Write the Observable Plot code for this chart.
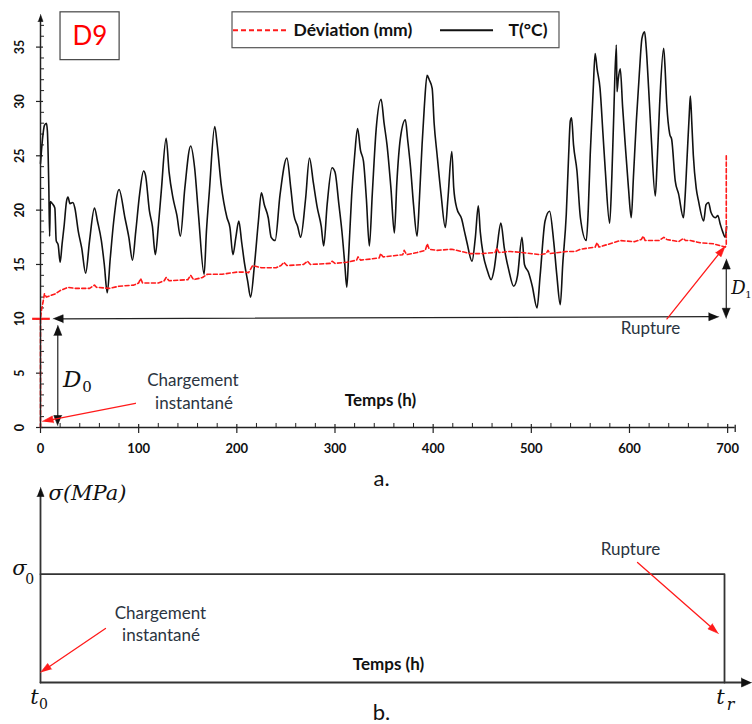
<!DOCTYPE html>
<html><head><meta charset="utf-8">
<script src="https://cdn.jsdelivr.net/npm/d3@7"></script>
<script src="https://cdn.jsdelivr.net/npm/@observablehq/plot@0.6"></script>
<style>
body{margin:0;background:#fff;overflow:hidden;}
#chart{width:752px;height:724px;position:relative;background:#fff;}
#chart svg{display:block;overflow:visible;}
</style></head><body><div id="chart"></div>
<script>
// ---------------- DATA ----------------
const tempHours = [0,2,4,6,7,8.5,9.3,10,12,14.6,16,18,20,22,24,26.5,28,30,33,35,38.4,42,46,50,55,58,62,65,68,71,74.6,80,86,90,93.7,97,101,105,107,111,114,117,120,123,128,131,135,139,142.5,147,153,157,161,166.7,169,172,177.5,180,184,190,193,196,199,202,205,208,211,214,218,222,225,228,232,235,239,244,251,255,258,262,265,270,274,278,282,286,288.5,292,297,300,304,307,310,312,314,317,320,323,326,329,332,335,338,342,347,350,353,357,360.5,363,366.6,371.7,374,377,380,383.6,386,388.7,391,393.8,396,399,401,404,408,412.4,415,419,421,424,429,432,434.5,439.6,443,446,448,451,455,459,462,465,469,472.5,477,482,486,490.5,493,497,501,505.8,509,514,518.6,522.7,526,529.5,532,535.6,538,539.7,541,543,546.5,550,556,558,560,563,565,567,570,573,575.4,579.8,582,583.8,586.6,587.3,588.5,590.6,593,595.7,599,601.8,604,607,610,612.7,615.4,617,619.5,622,626.3,628,630.7,634.8,636,638,641,643,646.6,650,655,656.5,658.5,661,662,663.5,665,668,670.4,675.5,678,680.5,683,687.4,690,692.5,695,697.6,699];
const tempValues = [24.3,26.5,27.8,28.0,27.3,22,17.6,20.8,20.6,20.2,17.2,16.8,15.2,16.9,18.5,20.8,21.2,20.6,20.7,20.2,18.1,16.5,14.2,17.2,20.2,19,17.2,15,12.4,15.5,19,21.9,19.3,17.5,15.4,18,21.5,23.6,23.2,19.9,18.5,15.9,18.5,21.7,26.6,23.5,21.1,19.5,17.6,22,25.9,23.9,19.5,14.1,18,21.7,27.7,26,22.4,19.3,18.4,15.9,17.5,19,17,15,13.5,12,15,19,21.6,20.5,19.3,17.5,17.2,21.4,24.8,22,19.6,18.5,17.5,21,24.8,22.5,20.2,18.5,16.7,20.5,23.9,23.5,20.5,18.1,15,12.9,16,21.4,25,27.5,25.5,24.5,21,16.7,21.5,27.5,30.2,28,26,22,17.9,22.5,26.6,28.3,26.5,23.9,20.5,17.6,21,26,29.5,32.4,32,31.2,28,25.1,21.5,18.4,21,25.4,22,20.2,19.2,18,17,15.3,17.5,20.4,18,15.9,14.5,13.6,14.5,16.5,18.8,16.5,14.5,13,14,17.5,15,14.3,13,11,14,19,19.9,17.2,14,11.3,15,19.6,25,28.2,28.5,26,23.6,19.3,17.2,20,25.1,31,34.4,33,31.2,27,23.6,18.8,23,28.2,35.2,30.9,32,33,29.5,26,22,19.3,23,28.2,32.5,35.8,36.4,35,31.2,27,21.3,24,29.7,34.9,33.5,29.7,27,26.5,22.7,21.5,19.3,21,24.5,29,30.5,28,25.1,22,20.8,19,20.5,20.7,19.8,19.3,19.5,18.7,18,17.5,18.5];

const devHours = [0,0,1,2.5,4,6,9,15,20,28,35,50,55,57,70,80,95,100,102,104,120,126,128,131,150,153,156,165,170,185,200,208,212,216,225,240,245,248,251,268,272,275,295,297,300,312,322,323.5,326,336,345,346.5,349,360,369,370.5,373,383.6,392,394,396,404,419,438,450,463,465,467,478.6,490,509,515,517,519,536,545,550,565,567,569,590.6,605,612,614,616,630,635,638,650,655,657,662,672,685.6,697.6,698.6,698.6];
const devValues = [0,10,10.8,11.5,12.3,12.0,12.1,12.3,12.6,12.9,12.8,12.8,13.1,12.9,12.8,13,13.1,13.3,13.7,13.3,13.3,13.5,13.8,13.5,13.6,14,13.6,13.8,14.1,14.1,14.3,14.3,14.25,14.9,14.7,14.7,14.9,15.2,14.9,15,15.3,15,15.1,15.3,15.1,15.2,15.4,15.7,15.4,15.5,15.6,16.0,15.7,15.8,15.9,16.3,15.9,16.1,16.3,16.9,16.4,16.3,16.4,16.0,16.0,16.1,16.5,16.1,16.2,16.1,15.9,16.0,16.3,16.0,16.2,16.2,16.4,16.6,17.0,16.6,17.2,17.1,17.3,17.6,17.2,17.2,17.5,17.3,17.1,17.4,17.2,17.2,17.0,16.9,16.6,16.8,25];

const xTicks = [0,100,200,300,400,500,600,700];
const xMinorTicks = d3.range(0, 701, 20).filter(d => d % 100 !== 0);
const yTicks = [0,5,10,15,20,25,30,35];
const yMinorTicks = d3.range(0, 38, 1).filter(d => d % 5 !== 0);
const legendLabels = ["Déviation (mm)", "T(°C)"];
const legendLabelX = [257.7, 476.8];

// ---------------- LAYOUT ----------------
const W = 752;
const font = "Lato, 'Open Sans', sans-serif";
const mathFont = "'DejaVu Serif', 'Liberation Serif', serif";
const ink = "#2b3441";

const hA = 485, mlA = 40, mrA = 17, mtA = 14, mbA = 58;
const xDom = [0, 708], yDomA = [0, 38];
const kx = (W - mlA - mrA) / (xDom[1] - xDom[0]);
const kyA = (hA - mtA - mbA) / (yDomA[1] - yDomA[0]);

const hB = 239, mtB = 2, mbB = 42;
const yDomB = [0, 1.8];
const kyB = (hB - mtB - mbB) / (yDomB[1] - yDomB[0]);

// arrow helpers (head sizes in px, converted to data units through the scale ratios)
let arrowId = 0;
function headAt(from, tip, ky, len, hw) {
  const dx = (tip[0] - from[0]) * kx, dy = -(tip[1] - from[1]) * ky;
  const L = Math.hypot(dx, dy), ux = dx / L, uy = dy / L, nx = -uy, ny = ux;
  const id = "h" + (arrowId++);
  const toData = (px, py) => ({t: tip[0] + px / kx, v: tip[1] - py / ky, id});
  return {
    head: [toData(0, 0), toData(-ux * len + nx * hw, -uy * len + ny * hw), toData(-ux * len - nx * hw, -uy * len - ny * hw)],
    base: toData(-ux * len * 0.7, -uy * len * 0.7)
  };
}
function single(from, tip, ky, len, hw) {
  const h = headAt(from, tip, ky, len, hw);
  const id = "s" + (arrowId++);
  return {shaft: [{t: from[0], v: from[1], id}, {t: h.base.t, v: h.base.v, id}], head: h.head};
}
function double(a, b, ky, len, hw) {
  const h1 = headAt(b, a, ky, len, hw), h2 = headAt(a, b, ky, len, hw);
  const id = "s" + (arrowId++);
  return {shaft: [{t: h1.base.t, v: h1.base.v, id}, {t: h2.base.t, v: h2.base.v, id}], head: [...h1.head, ...h2.head]};
}

// ---------------- PANEL A ----------------
const temp = tempHours.map((t, i) => ({t, v: tempValues[i]}));
const dev = devHours.map((t, i) => ({t, v: devValues[i]}));

const blackArrowsA = [
  double([12.9, 10.0], [691, 10.2], kyA, 10, 4),
  double([17.6, 9.4], [17.6, 0.18], kyA, 10, 4),
  double([698.6, 15.5], [698.6, 10.05], kyA, 10, 4),
  single([0, 0], [0, 38], kyA, 7, 2.5)
];
const redArrowsA = [
  single([96.7, 2.23], [1.7, 0.55], kyA, 11, 3.5),
  single([638.2, 9.99], [697.5, 16.7], kyA, 11, 3.5)
];
const flat = (arr, key) => arr.flatMap(a => a[key]);

const plotA = Plot.plot({
  width: W, height: hA,
  marginLeft: mlA, marginRight: mrA, marginTop: mtA, marginBottom: mbA,
  style: {background: "white", overflow: "visible", fontFamily: font},
  x: {domain: xDom, axis: null},
  y: {domain: yDomA, axis: null},
  marks: [
    // axes
    Plot.ruleY([0], {x1: 0, x2: 707.7, stroke: "#222", strokeWidth: 1.3}),
    Plot.ruleX([707.7], {y1: 0.2, y2: -0.45, stroke: "#222", strokeWidth: 1.3}),
    Plot.ruleX([0], {y1: 0, y2: 37.6, stroke: "#222", strokeWidth: 1.3}),
    Plot.ruleX(xTicks, {x: d => d, y1: 0.28, y2: -0.55, stroke: "#222", strokeWidth: 1.2}),
    Plot.ruleX(xMinorTicks, {x: d => d, y1: 0.37, y2: -0.09, stroke: "#222", strokeWidth: 1}),
    Plot.ruleY(yTicks, {y: d => d, x1: -4.1, x2: 3.1, stroke: "#222", strokeWidth: 1.2}),
    Plot.ruleY(yMinorTicks, {y: d => d, x1: 0, x2: 4.1, stroke: "#222", strokeWidth: 1}),
    Plot.text(xTicks, {x: d => d, y: -2.0, text: d => String(d), fontSize: 13, fontWeight: "bold", fill: "#111"}),
    Plot.text(yTicks, {x: -20.4, y: d => d, text: d => String(d), rotate: -90, fontSize: 12.5, fontWeight: "bold", fill: "#111"}),
    // data
    Plot.line(temp, {x: "t", y: "v", stroke: "#111", strokeWidth: 1.6, strokeLinejoin: "round", curve: "monotone-x"}),
    Plot.line(dev, {x: "t", y: "v", stroke: "#ff1a1a", strokeWidth: 1.6, strokeDasharray: "4,2.5"}),
    Plot.ruleY([10], {x1: -8, x2: 10, stroke: "#ff1a1a", strokeWidth: 2.2}),
    // annotation arrows
    Plot.line(flat(blackArrowsA, "shaft"), {x: "t", y: "v", z: "id", stroke: "#222", strokeWidth: 1.2}),
    Plot.line(flat(blackArrowsA, "head"), {x: "t", y: "v", z: "id", fill: "#111", stroke: "#111", strokeWidth: 0.6}),
    Plot.line(flat(redArrowsA, "shaft"), {x: "t", y: "v", z: "id", stroke: "#ff1a1a", strokeWidth: 1.3}),
    Plot.line(flat(redArrowsA, "head"), {x: "t", y: "v", z: "id", fill: "#ff1a1a", stroke: "#ff1a1a", strokeWidth: 0.6}),
    // annotation texts
    Plot.text(["Chargement", "instantané"], {x: [155.3, 156.4], y: [4.32, 2.2], text: d => d, fontSize: 17, fill: ink}),
    Plot.text(["Rupture"], {x: 621.4, y: 9.1, text: d => d, fontSize: 17, fill: ink}),
    Plot.text(["Temps (h)"], {x: 346.4, y: 2.48, text: d => d, fontSize: 17, fontWeight: "bold", fill: "#111"}),
    Plot.text(["D"], {x: 23.0, y: 4.4, text: d => d, textAnchor: "start", fontSize: 23, fontStyle: "italic", fontFamily: mathFont, fill: "#111"}),
    Plot.text(["0"], {x: 42.5, y: 3.75, text: d => d, textAnchor: "start", fontSize: 15, fontFamily: mathFont, fill: "#111"}),
    Plot.text(["D"], {x: 703.7, y: 12.8, text: d => d, textAnchor: "start", fontSize: 18, fontStyle: "italic", fontFamily: mathFont, fill: "#111"}),
    Plot.text(["1"], {x: 718.0, y: 12.25, text: d => d, textAnchor: "start", fontSize: 10, fontFamily: mathFont, fill: "#111"}),
    Plot.text(["a."], {x: 347.4, y: -4.69, text: d => d, fontSize: 22, fill: "#111"}),
    // D9 box
    Plot.rect([0], {x1: 20.4, x2: 80.6, y1: 33.8, y2: 38.2, fill: "white", stroke: "#444", strokeWidth: 1.2}),
    Plot.text(["D9"], {x: 50.4, y: 36.0, text: d => d, fontSize: 26, fill: "#ff0000"}),
    // legend box
    Plot.rect([0], {x1: 195.6, x2: 528.7, y1: 34.9, y2: 38.2, fill: "white", stroke: "#555", strokeWidth: 1.2}),
    Plot.ruleY([36.55], {x1: 196.6, x2: 251.6, stroke: "#ff1a1a", strokeWidth: 2, strokeDasharray: "5,3"}),
    Plot.ruleY([36.55], {x1: 407.5, x2: 461.5, stroke: "#111", strokeWidth: 2}),
    Plot.text(legendLabels, {x: legendLabelX, y: 36.5, text: d => d, textAnchor: "start", fontSize: 17.5, fontWeight: "bold", fill: "#111"})
  ]
});

// ---------------- PANEL B ----------------
const sigma0 = 1.0, tRupture = 696.8;
const blackArrowsB = [
  single([0, 0], [0, 1.8], kyB, 9, 3.5),
  single([0, 0], [724.3, 0], kyB, 10, 4.5)
];
const redArrowsB = [
  single([66.2, 0.498], [0, 0.092], kyB, 11, 3.5),
  single([608.2, 1.108], [690.7, 0.452], kyB, 11, 3.5)
];
const stressPath = [{t: 0, v: sigma0}, {t: tRupture, v: sigma0}, {t: tRupture, v: 0}];

const plotB = Plot.plot({
  width: W, height: hB,
  marginLeft: mlA, marginRight: mrA, marginTop: mtB, marginBottom: mbB,
  style: {background: "white", overflow: "visible", fontFamily: font},
  x: {domain: xDom, axis: null},
  y: {domain: yDomB, axis: null},
  marks: [
    Plot.line(stressPath, {x: "t", y: "v", stroke: "#333", strokeWidth: 1.8}),
    Plot.line(flat(blackArrowsB, "shaft"), {x: "t", y: "v", z: "id", stroke: "#333", strokeWidth: 1.8}),
    Plot.line(flat(blackArrowsB, "head"), {x: "t", y: "v", z: "id", fill: "#111", stroke: "#111", strokeWidth: 0.6}),
    Plot.line(flat(redArrowsB, "shaft"), {x: "t", y: "v", z: "id", stroke: "#ff1a1a", strokeWidth: 1.3}),
    Plot.line(flat(redArrowsB, "head"), {x: "t", y: "v", z: "id", fill: "#ff1a1a", stroke: "#ff1a1a", strokeWidth: 0.6}),
    Plot.text(["σ(MPa)"], {x: 8.2, y: 1.745, text: d => d, textAnchor: "start", fontSize: 21, fontStyle: "italic", fontFamily: mathFont, fill: "#111"}),
    Plot.text(["σ"], {x: -21.4, y: 1.05, text: d => d, fontSize: 21, fontStyle: "italic", fontFamily: mathFont, fill: "#111"}),
    Plot.text(["0"], {x: -11.0, y: 0.95, text: d => d, fontSize: 14, fontFamily: mathFont, fill: "#111"}),
    Plot.text(["t"], {x: -6.1, y: -0.14, text: d => d, fontSize: 21, fontStyle: "italic", fontFamily: mathFont, fill: "#111"}),
    Plot.text(["0"], {x: 3.0, y: -0.2, text: d => d, fontSize: 14, fontFamily: mathFont, fill: "#111"}),
    Plot.text(["t"], {x: 692.7, y: -0.14, text: d => d, fontSize: 21, fontStyle: "italic", fontFamily: mathFont, fill: "#111"}),
    Plot.text(["r"], {x: 703.0, y: -0.21, text: d => d, fontSize: 16, fontStyle: "italic", fontFamily: mathFont, fill: "#111"}),
    Plot.text(["Temps (h)"], {x: 354.5, y: 0.166, text: d => d, fontSize: 17, fontWeight: "bold", fill: "#111"}),
    Plot.text(["Chargement", "instantané"], {x: [122.2, 122.8], y: [0.637, 0.434], text: d => d, fontSize: 17, fill: ink}),
    Plot.text(["Rupture"], {x: 601, y: 1.228, text: d => d, fontSize: 17, fill: ink}),
    Plot.text(["b."], {x: 347.4, y: -0.277, text: d => d, fontSize: 22, fill: "#111"})
  ]
});

document.getElementById("chart").append(plotA, plotB);
</script></body></html>
